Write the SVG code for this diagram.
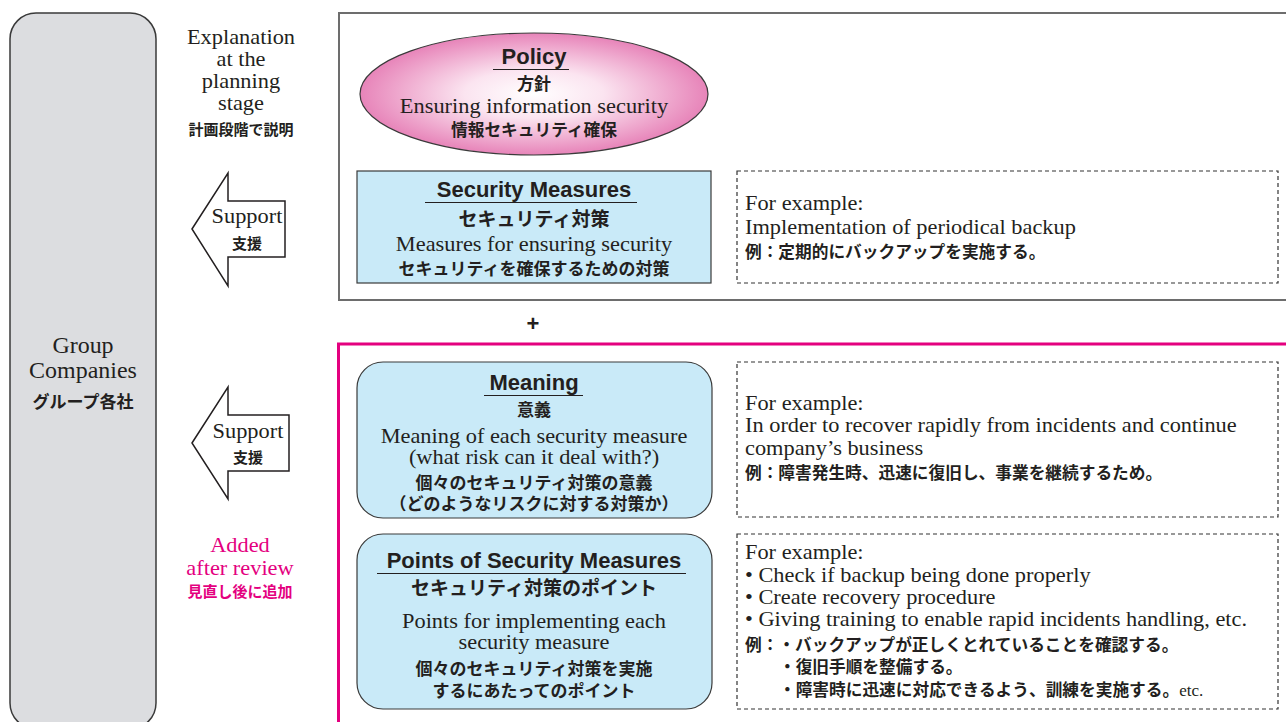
<svg xmlns="http://www.w3.org/2000/svg" width="1286" height="722" viewBox="0 0 1286 722">
<defs>
<radialGradient id="pg" cx="50%" cy="50%" r="50%">
<stop offset="0" stop-color="#ffffff"/>
<stop offset="0.4" stop-color="#fbe4f0"/>
<stop offset="1" stop-color="#e784b9"/>
</radialGradient>
<style>
.en{font-family:"Liberation Serif","Times New Roman",serif;font-size:21px;fill:#231f20;transform-box:fill-box;transform-origin:center;transform:scaleX(1.065)}
.l{transform-origin:left center}
.jp{font-family:"Noto Sans CJK JP","Noto Sans",sans-serif;font-weight:bold;font-size:16.7px;fill:#231f20}
.hd{font-family:"Liberation Sans",Arial,sans-serif;font-weight:bold;font-size:22px;fill:#231f20}
.c{text-anchor:middle}
.pk{fill:#e4007f}
.box{fill:#c9eaf8;stroke:#3a3a3a;stroke-width:1.2}
.dash{fill:none;stroke:#333;stroke-width:1.2;stroke-dasharray:4 3}
.ul{stroke:#231f20;stroke-width:1.2}
.arr{fill:#fff;stroke:#231f20;stroke-width:1.5}
</style>
</defs>
<rect width="1286" height="722" fill="#fff"/>

<g id="group-companies">
<rect x="10" y="13" width="146" height="716" rx="26" fill="#dcdde0" stroke="#3a3a3a" stroke-width="1.5"/>
<text class="en c" x="83" y="353" style="font-size:22.5px">Group</text>
<text class="en c" x="83" y="378" style="font-size:22.5px">Companies</text>
<text class="jp c" x="83" y="408" style="font-size:17px">グループ各社</text>
</g>

<g id="planning-label">
<text class="en c" x="241" y="44">Explanation</text>
<text class="en c" x="241" y="66">at the</text>
<text class="en c" x="241" y="88">planning</text>
<text class="en c" x="241" y="110">stage</text>
<text class="jp c" x="241" y="135" style="font-size:15px">計画段階で説明</text>
</g>

<g id="review-label">
<text class="en c pk" x="240" y="552">Added</text>
<text class="en c pk" x="240" y="575">after review</text>
<text class="jp c pk" x="240" y="597" style="font-size:15px">見直し後に追加</text>
</g>

<g id="support-arrow-1">
<polygon class="arr" points="192,229 228,173 228,201 285,201 285,257 228,257 228,286"/>
<text class="en c" x="247" y="223">Support</text>
<text class="jp c" x="247" y="249" style="font-size:15px">支援</text>
</g>

<g id="support-arrow-2">
<polygon class="arr" points="192,443 228,387 228,415 289,415 289,471 228,471 228,499"/>
<text class="en c" x="248" y="438">Support</text>
<text class="jp c" x="248" y="463" style="font-size:15px">支援</text>
</g>

<g id="frames">
<path d="M1290,13 H339 V300 H1290" fill="none" stroke="#6d6d6d" stroke-width="2"/>
<path d="M1290,344 H338.5 V730" fill="none" stroke="#e4007f" stroke-width="3"/>
<text x="533" y="331" font-family="Liberation Sans, Arial, sans-serif" font-size="22" font-weight="bold" fill="#231f20" text-anchor="middle">+</text>
</g>

<g id="policy">
<ellipse cx="534" cy="94" rx="174" ry="61" fill="url(#pg)" stroke="#3a3a3a" stroke-width="1.2"/>
<text class="hd c" x="534" y="64">Policy</text>
<line class="ul" x1="493" y1="69.5" x2="569" y2="69.5"/>
<text class="jp c" x="534" y="90" style="font-size:17px">方針</text>
<text class="en c" x="534" y="113">Ensuring information security</text>
<text class="jp c" x="534" y="136">情報セキュリティ確保</text>
</g>

<g id="security-measures">
<rect class="box" x="357" y="171" width="354" height="112"/>
<text class="hd c" x="534" y="197">Security Measures</text>
<line class="ul" x1="425" y1="202.5" x2="637" y2="202.5"/>
<text class="jp c" x="534" y="226" style="font-size:19px">セキュリティ対策</text>
<text class="en c" x="534" y="251">Measures for ensuring security</text>
<text class="jp c" x="534" y="275" style="font-size:17px">セキュリティを確保するための対策</text>
</g>

<g id="example-1">
<rect class="dash" x="737" y="171" width="541" height="112"/>
<text class="en l" x="745" y="210">For example:</text>
<text class="en l" x="745" y="234">Implementation of periodical backup</text>
<text class="jp" x="745" y="258">例：定期的にバックアップを実施する。</text>
</g>

<g id="meaning">
<rect class="box" x="357" y="362" width="355" height="156" rx="26"/>
<text class="hd c" x="534" y="390">Meaning</text>
<line class="ul" x1="484" y1="395.5" x2="583" y2="395.5"/>
<text class="jp c" x="534" y="416" style="font-size:17px">意義</text>
<text class="en c" x="534" y="443">Meaning of each security measure</text>
<text class="en c" x="534" y="464">(what risk can it deal with?)</text>
<text class="jp c" x="534" y="489" style="font-size:17px">個々のセキュリティ対策の意義</text>
<text class="jp c" x="534" y="510" style="font-size:17px">（どのようなリスクに対する対策か）</text>
</g>

<g id="example-2">
<rect class="dash" x="737" y="362" width="541" height="155"/>
<text class="en l" x="745" y="410">For example:</text>
<text class="en l" x="745" y="432">In order to recover rapidly from incidents and continue</text>
<text class="en l" x="745" y="455">company’s business</text>
<text class="jp" x="745" y="479">例：障害発生時、迅速に復旧し、事業を継続するため。</text>
</g>

<g id="points">
<rect class="box" x="357" y="534" width="355" height="175" rx="26"/>
<text class="hd c" x="534" y="568">Points of Security Measures</text>
<line class="ul" x1="377" y1="573.5" x2="686" y2="573.5"/>
<text class="jp c" x="534" y="595" style="font-size:19px">セキュリティ対策のポイント</text>
<text class="en c" x="534" y="628">Points for implementing each</text>
<text class="en c" x="534" y="649">security measure</text>
<text class="jp c" x="534" y="675" style="font-size:17px">個々のセキュリティ対策を実施</text>
<text class="jp c" x="534" y="697" style="font-size:17px">するにあたってのポイント</text>
</g>

<g id="example-3">
<rect class="dash" x="737" y="534" width="541" height="175"/>
<text class="en l" x="745" y="559">For example:</text>
<text class="en l" x="745" y="582">• Check if backup being done properly</text>
<text class="en l" x="745" y="604">• Create recovery procedure</text>
<text class="en l" x="745" y="626">• Giving training to enable rapid incidents handling, etc.</text>
<text class="jp" x="745" y="651">例：・バックアップが正しくとれていることを確認する。</text>
<text class="jp" x="779" y="673">・復旧手順を整備する。</text>
<text class="jp" x="779" y="696">・障害時に迅速に対応できるよう、訓練を実施する。<tspan style="font-family:'Liberation Serif',serif;font-size:17px;font-weight:normal">etc.</tspan></text>
</g>
</svg>
